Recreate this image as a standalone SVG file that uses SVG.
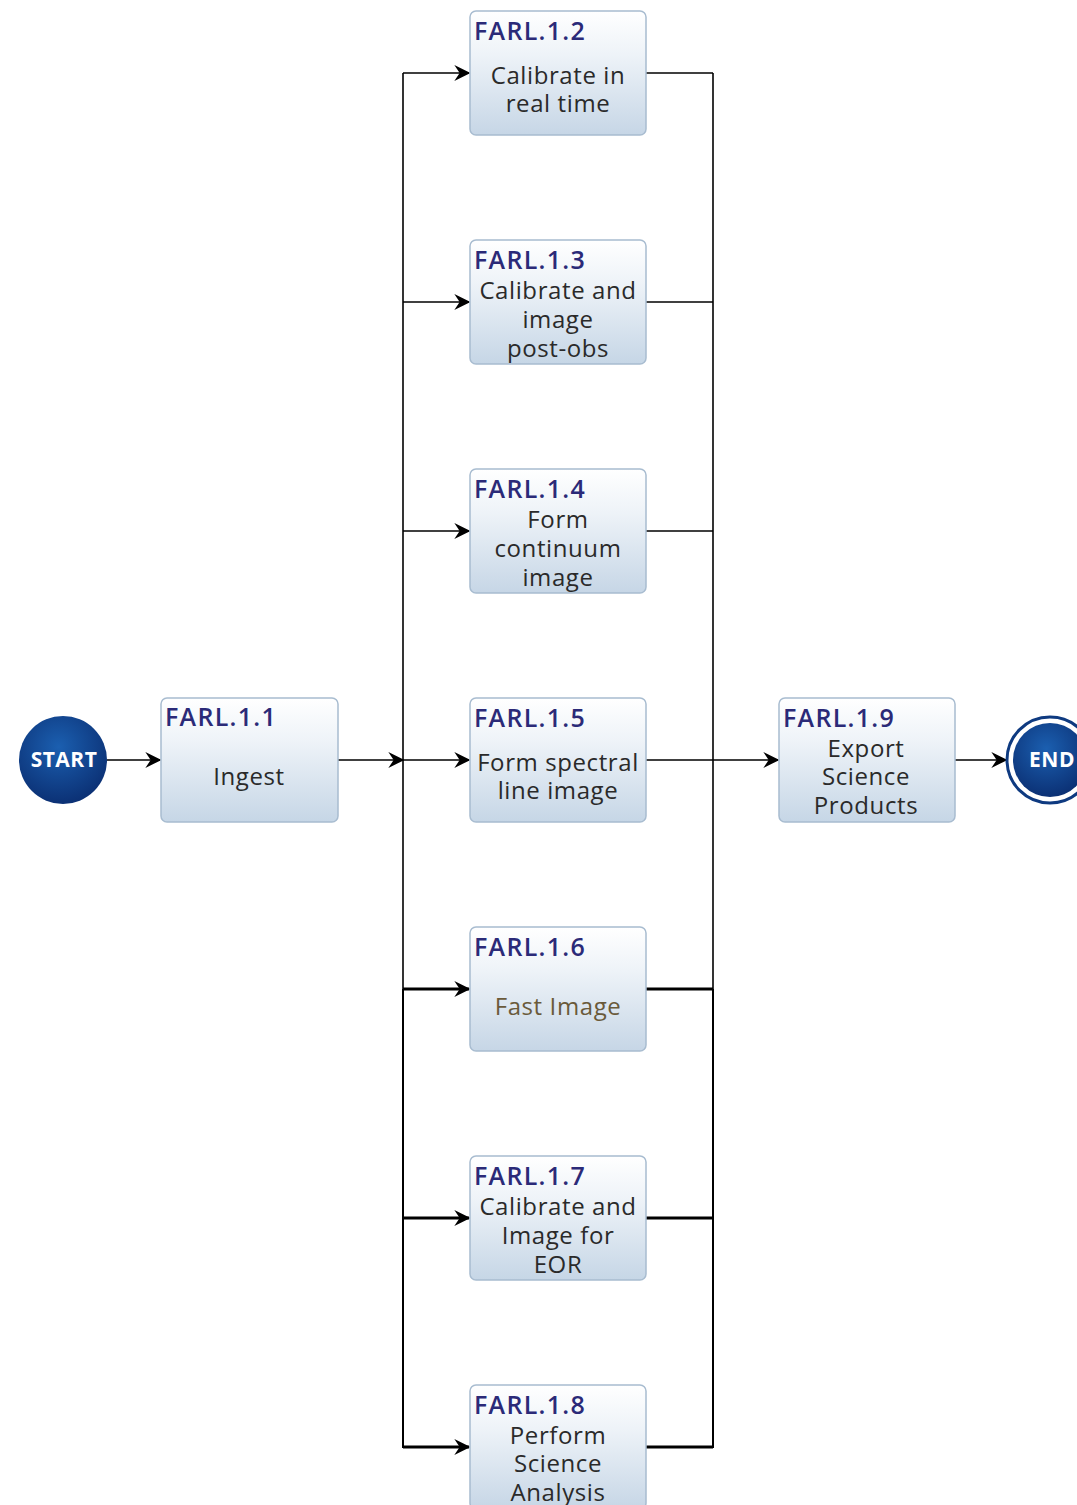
<svg xmlns="http://www.w3.org/2000/svg" width="1077" height="1505" viewBox="0 0 1077 1505">
<defs>
<linearGradient id="boxg" x1="0" y1="0" x2="0" y2="1">
<stop offset="0" stop-color="#ffffff"/>
<stop offset="0.35" stop-color="#eef3f8"/>
<stop offset="1" stop-color="#c6d6e6"/>
</linearGradient>
<radialGradient id="circg" cx="0.45" cy="0.35" r="0.7">
<stop offset="0" stop-color="#1b5fb0"/>
<stop offset="1" stop-color="#0a2d70"/>
</radialGradient>
<marker id="arr" viewBox="0 0 12 12" refX="11" refY="6" markerWidth="16" markerHeight="16" markerUnits="userSpaceOnUse" orient="auto">
<path d="M0,0 L12,6 L0,12 L4,6 z" fill="#000"/>
</marker>
</defs>
<style>
.box{fill:url(#boxg);stroke:#a8bcd0;stroke-width:1.5}
.hd{font-family:"Open Sans","Noto Sans",sans-serif;font-size:25px;font-weight:600;fill:#2b2a78;letter-spacing:1.3px}
.tx{font-family:"Open Sans","Noto Sans",sans-serif;font-size:24px;fill:#2a2a2a;text-anchor:middle;letter-spacing:0.6px}
.ct{font-family:"Open Sans","Noto Sans",sans-serif;font-size:21px;font-weight:700;fill:#ffffff;text-anchor:middle;letter-spacing:0.5px}
.ln{fill:none;stroke:#000;stroke-width:1.6}
.lnm{fill:none;stroke:#000;stroke-width:2}
.lnb{fill:none;stroke:#000;stroke-width:3}
</style>
<rect width="1077" height="1505" fill="#ffffff"/>
<g id="connectors">
<line class="ln" x1="107" y1="760" x2="160" y2="760" marker-end="url(#arr)"/>
<line class="ln" x1="338" y1="760" x2="403" y2="760" marker-end="url(#arr)"/>
<line class="ln" x1="403" y1="73" x2="403" y2="989"/>
<line class="lnm" x1="403" y1="989" x2="403" y2="1448"/>
<line class="ln" x1="713" y1="73" x2="713" y2="989"/>
<line class="lnm" x1="713" y1="989" x2="713" y2="1448"/>
<line class="ln" x1="403" y1="73" x2="469" y2="73" marker-end="url(#arr)"/>
<line class="ln" x1="403" y1="302" x2="469" y2="302" marker-end="url(#arr)"/>
<line class="ln" x1="403" y1="531" x2="469" y2="531" marker-end="url(#arr)"/>
<line class="ln" x1="403" y1="760" x2="469" y2="760" marker-end="url(#arr)"/>
<line class="lnb" x1="403" y1="989" x2="469" y2="989" marker-end="url(#arr)"/>
<line class="lnb" x1="403" y1="1218" x2="469" y2="1218" marker-end="url(#arr)"/>
<line class="lnb" x1="403" y1="1447" x2="469" y2="1447" marker-end="url(#arr)"/>
<line class="ln" x1="646" y1="73" x2="713" y2="73"/>
<line class="ln" x1="646" y1="302" x2="713" y2="302"/>
<line class="ln" x1="646" y1="531" x2="713" y2="531"/>
<line class="ln" x1="646" y1="760" x2="713" y2="760"/>
<line class="lnb" x1="646" y1="989" x2="713" y2="989"/>
<line class="lnb" x1="646" y1="1218" x2="713" y2="1218"/>
<line class="lnb" x1="646" y1="1447" x2="713" y2="1447"/>
<line class="ln" x1="713" y1="760" x2="778" y2="760" marker-end="url(#arr)"/>
<line class="ln" x1="955" y1="760" x2="1006" y2="760" marker-end="url(#arr)"/>
</g>
<g id="start">
<circle cx="63" cy="760" r="44" fill="url(#circg)"/>
<text class="ct" x="64" y="767">START</text>
</g>
<g id="end">
<circle cx="1050" cy="760" r="43" fill="#ffffff" stroke="#0e3a80" stroke-width="3"/>
<circle cx="1050" cy="760" r="37" fill="url(#circg)"/>
<text class="ct" x="1052" y="767">END</text>
</g>
<g id="n11">
<rect class="box" x="161" y="698" width="177" height="124" rx="6"/>
<text class="hd" x="165" y="726">FARL.1.1</text>
<text class="tx" x="249" y="785">Ingest</text>
</g>
<g id="n12">
<rect class="box" x="470" y="11" width="176" height="124" rx="6"/>
<text class="hd" x="474" y="40">FARL.1.2</text>
<text class="tx" x="558" y="84">Calibrate in</text>
<text class="tx" x="558" y="112">real time</text>
</g>
<g id="n13">
<rect class="box" x="470" y="240" width="176" height="124" rx="6"/>
<text class="hd" x="474" y="269">FARL.1.3</text>
<text class="tx" x="558" y="299">Calibrate and</text>
<text class="tx" x="558" y="328">image</text>
<text class="tx" x="558" y="357">post-obs</text>
</g>
<g id="n14">
<rect class="box" x="470" y="469" width="176" height="124" rx="6"/>
<text class="hd" x="474" y="498">FARL.1.4</text>
<text class="tx" x="558" y="528">Form</text>
<text class="tx" x="558" y="557">continuum</text>
<text class="tx" x="558" y="586">image</text>
</g>
<g id="n15">
<rect class="box" x="470" y="698" width="176" height="124" rx="6"/>
<text class="hd" x="474" y="727">FARL.1.5</text>
<text class="tx" x="558" y="771">Form spectral</text>
<text class="tx" x="558" y="799">line image</text>
</g>
<g id="n16">
<rect class="box" x="470" y="927" width="176" height="124" rx="6"/>
<text class="hd" x="474" y="956">FARL.1.6</text>
<text class="tx" x="558" y="1015" style="fill:#6a5a3a">Fast Image</text>
</g>
<g id="n17">
<rect class="box" x="470" y="1156" width="176" height="124" rx="6"/>
<text class="hd" x="474" y="1185">FARL.1.7</text>
<text class="tx" x="558" y="1215">Calibrate and</text>
<text class="tx" x="558" y="1244">Image for</text>
<text class="tx" x="558" y="1273">EOR</text>
</g>
<g id="n18">
<rect class="box" x="470" y="1385" width="176" height="124" rx="6"/>
<text class="hd" x="474" y="1414">FARL.1.8</text>
<text class="tx" x="558" y="1444">Perform</text>
<text class="tx" x="558" y="1472">Science</text>
<text class="tx" x="558" y="1501">Analysis</text>
</g>
<g id="n19">
<rect class="box" x="779" y="698" width="176" height="124" rx="6"/>
<text class="hd" x="783" y="727">FARL.1.9</text>
<text class="tx" x="866" y="757">Export</text>
<text class="tx" x="866" y="785">Science</text>
<text class="tx" x="866" y="814">Products</text>
</g>
</svg>
